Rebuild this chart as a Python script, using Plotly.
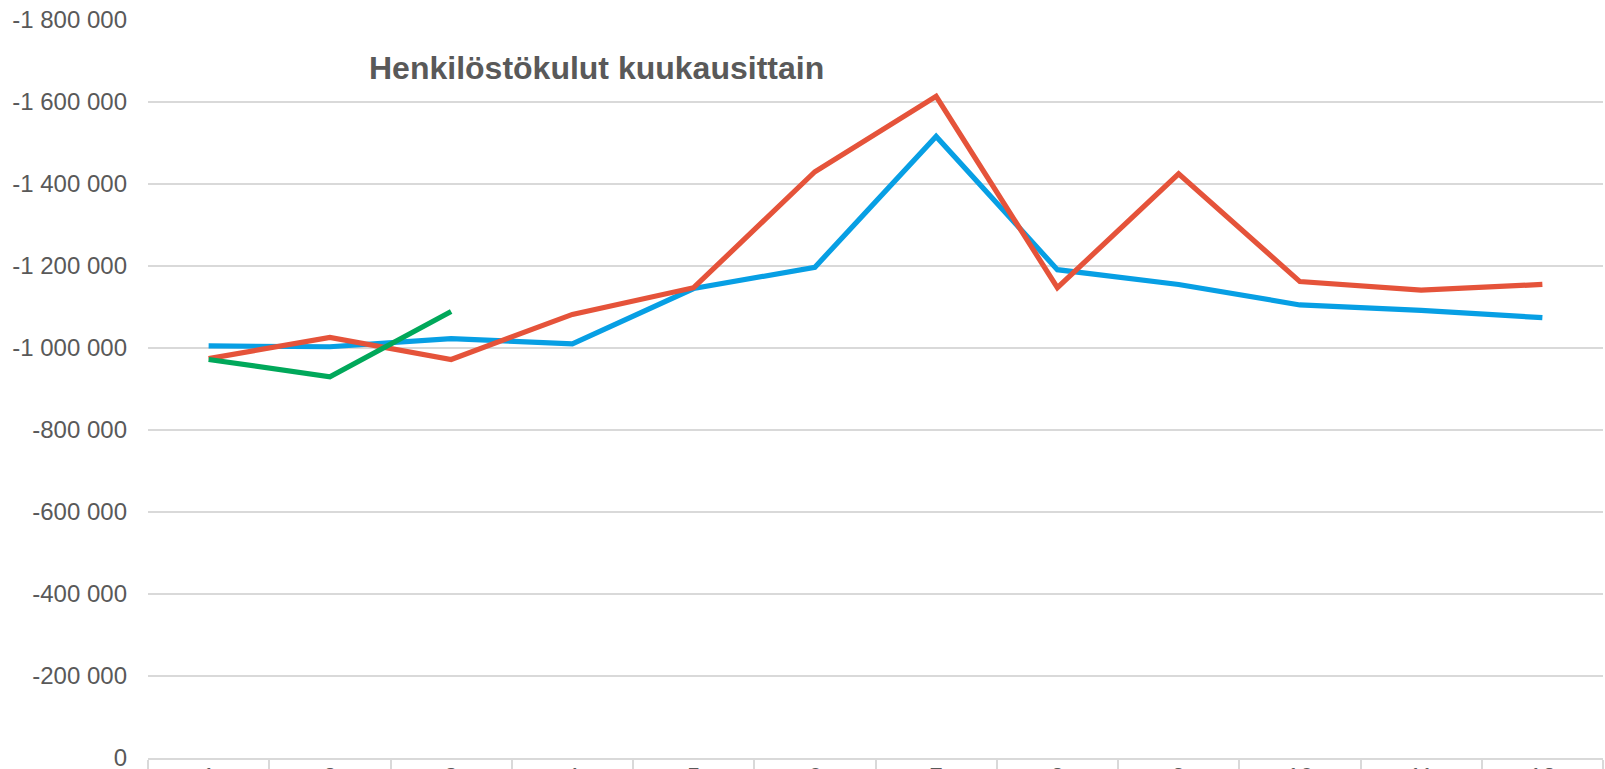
import plotly.graph_objects as go

months = ["1", "2", "3", "4", "5", "6", "7", "8", "9", "10", "11", "12"]
series_blue = [-1005000, -1003000, -1023000, -1010000, -1145000, -1197000,
               -1516000, -1191000, -1155000, -1105000, -1092000, -1074000]
series_red = [-974000, -1026000, -972000, -1082000, -1147000, -1430000,
              -1614000, -1147000, -1425000, -1162000, -1141000, -1155000]
series_green = [-972000, -930000, -1089000]

y_tickvals = [0, -200000, -400000, -600000, -800000, -1000000,
              -1200000, -1400000, -1600000, -1800000]
y_ticktext = ["0", "-200 000", "-400 000", "-600 000", "-800 000", "-1 000 000",
              "-1 200 000", "-1 400 000", "-1 600 000", "-1 800 000"]
title_text = "Henkilöstökulut kuukausittain"

fig = go.Figure()
fig.add_trace(go.Scatter(x=months, y=series_blue, mode="lines",
                         line=dict(color="#079FE4", width=5.2), name="A"))
fig.add_trace(go.Scatter(x=months, y=series_red, mode="lines",
                         line=dict(color="#E5533A", width=5.2), name="B"))
fig.add_trace(go.Scatter(x=months[:len(series_green)], y=series_green, mode="lines",
                         line=dict(color="#00A85A", width=5.2), name="C"))

fig.update_layout(
    width=1605, height=769,
    margin=dict(l=148, r=2, t=20, b=11),
    paper_bgcolor="white", plot_bgcolor="white",
    showlegend=False,
    font=dict(family="Liberation Sans, Arial, sans-serif", color="#595959", size=24),
    annotations=[dict(text="<b>" + title_text + "</b>", xref="paper", yref="paper",
                      x=(596 - 148) / 1455, y=(758 - 68) / 738,
                      xanchor="center", yanchor="middle",
                      showarrow=False, font=dict(size=32, color="#595959"))],
)
fig.update_xaxes(type="category", range=[-0.5, 11.5], tickson="boundaries",
                 ticks="outside", ticklen=14, tickcolor="#d9d9d9", tickwidth=1.5,
                 ticklabelstandoff=-4, automargin=False, ticklabeloverflow="allow",
                 showline=True, linecolor="#d9d9d9", linewidth=1.5,
                 showgrid=False, zeroline=False,
                 tickfont=dict(size=24, color="#595959"))
fig.update_yaxes(range=[0, -1800000], tickvals=y_tickvals, ticktext=y_ticktext,
                 showgrid=True, gridcolor="#d9d9d9", gridwidth=1.5, automargin=False,
                 ticklabeloverflow="allow",
                 zeroline=False, showline=False, ticks="", ticklabelstandoff=20,
                 tickfont=dict(size=24, color="#595959"))

fig.write_html("out.html",
               config={"displayModeBar": False},
               post_script="document.body.style.margin='0';"
                           "document.body.style.overflow='hidden';")
